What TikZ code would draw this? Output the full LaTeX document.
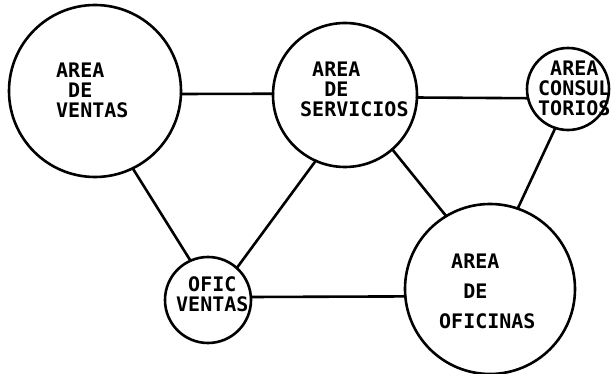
\documentclass[tikz,border=0pt]{standalone}
\usepackage{fontspec}
\newfontfamily\typfont{DejaVu Sans Mono}
\newcommand\colsp{\hphantom{X}}
\begin{document}
\begin{tikzpicture}[x=1pt,y=-1pt,line join=round,line cap=round,
	area/.style={draw,circle,line width=2.6pt,inner sep=0pt,outer sep=0pt},
	rotulo/.style={anchor=north west,inner sep=0pt,align=left,font={\typfont\bfseries\fontsize{20}{20}\selectfont}},
	enlace/.style={line width=2.6pt}]
	\useasboundingbox (0,0) rectangle (611,374);
	
	\coordinate (V) at (95,91);
	\coordinate (S) at (345,95);
	\coordinate (C) at (568,89);
	\coordinate (O) at (208,300);
	\coordinate (F) at (490,289);
	
	\node[area,minimum size=172pt] (ventas) at (V) {};
	\node[area,minimum size=144pt] (servicios) at (S) {};
	\node[area,minimum size=82pt] (consultorios) at (C) {};
	\node[area,minimum size=86pt] (oficventas) at (O) {};
	\node[area,minimum size=170pt] (oficinas) at (F) {};
	
	\node[rotulo] (t-ventas) at (56,63) {AREA\\\colsp DE\\VENTAS};
	\node[rotulo] (t-servicios) at (300,62) {\colsp AREA\\\colsp\colsp DE\\SERVICIOS};
	\node[rotulo] (t-consultorios) at (538,61) {\colsp AREA\\CONSUL\\TORIOS};
	\node[rotulo] (t-oficventas) at (176,276) {\colsp OFIC\\VENTAS};
	\node[rotulo,font={\typfont\bfseries\fontsize{20}{30}\selectfont}] (t-oficinas) at (439,254) {\colsp AREA\\\colsp\colsp DE\\OFICINAS};
	
	\draw[enlace] (ventas.-2) -- (servicios.179);
	\draw[enlace] (servicios.-2) -- (consultorios.193);
	\draw[enlace] (ventas.-64) -- (oficventas.114);
	\draw[enlace] (servicios.246) -- (oficventas.48);
	\draw[enlace] (servicios.-49) -- (oficinas.121);
	\draw[enlace] (consultorios.252) -- (oficinas.71);
	\draw[enlace] (oficventas.4) -- (oficinas.185);
\end{tikzpicture}
\end{document}
